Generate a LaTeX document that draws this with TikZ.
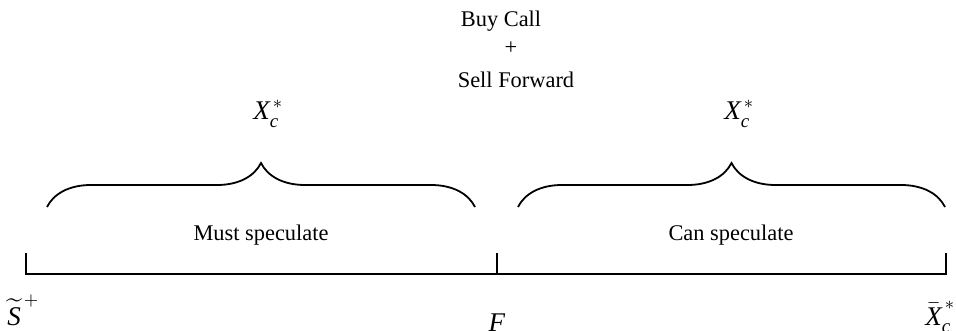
\documentclass[tikz,border=0pt]{standalone}
\usepackage{amsmath}
\usepackage{fontspec}
\setmainfont{Liberation Serif}
\usetikzlibrary{decorations.pathreplacing}
\newcommand{\xcstar}{$\textit{X}_{\textit{c}}^{\,*}$}
\begin{document}
\begin{tikzpicture}[x=0.5pt, y=-0.5pt,
	txt/.style={anchor=base, inner sep=0pt, font=\fontsize{11.2}{14}\selectfont},
	mathlbl/.style={anchor=base west, inner sep=0pt, font=\fontsize{13.5}{16}\selectfont},
	bracepath/.style={decorate, decoration={brace, amplitude=22pt}, line width=0.9pt},
	axisline/.style={line width=1pt}]
	\useasboundingbox (0,0) rectangle (956,331);
	% Titles:
	\node[txt] (buy) at (501, 27){Buy Call};
	\node[txt] (plus) at (511, 55){+};
	\node[txt] (sell) at (516, 88){Sell Forward};
	\node[mathlbl] (xleft) at (253, 120){\xcstar};
	\node[mathlbl] (xright) at (724, 120){\xcstar};
	% Braces:
	\coordinate (b1s) at (47, 207);
	\coordinate (b1e) at (475, 207);
	\coordinate (b2s) at (518, 207);
	\coordinate (b2e) at (945, 207);
	\draw[bracepath] (b1s) -- (b1e);
	\draw[bracepath] (b2s) -- (b2e);
	\node[txt] (must) at (261, 240){Must speculate};
	\node[txt] (can) at (731, 240){Can speculate};
	% Axis and ticks:
	\coordinate (axL) at (26, 274);
	\coordinate (axM) at (497, 274);
	\coordinate (axR) at (946, 274);
	\draw[axisline] ([yshift=10.5pt]axL) -- (axL) -- (axR) -- ([yshift=10.5pt]axR);
	\draw[axisline] (axM) -- ([yshift=10.5pt]axM);
	\node[mathlbl] (splus) at (7, 325){$\widetilde{\textit{S}}^{\,+}$};
	\node[mathlbl, anchor=base] (fwd) at (497, 331){\textit{F}};
	\node[mathlbl] (xbar) at (925, 325){$\bar{\textit{X}}_{\textit{c}}^{\,*}$};
\end{tikzpicture}
\end{document}
